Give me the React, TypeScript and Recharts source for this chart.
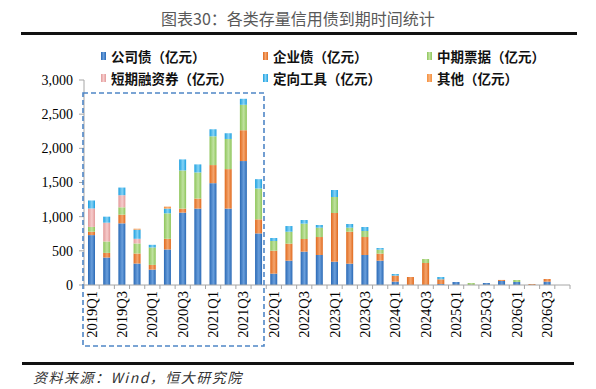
import { BarChart, Bar, XAxis, YAxis } from "recharts";

const quarters = [
    "2019Q1", "2019Q2", "2019Q3", "2019Q4",
    "2020Q1", "2020Q2", "2020Q3", "2020Q4",
    "2021Q1", "2021Q2", "2021Q3", "2021Q4",
    "2022Q1", "2022Q2", "2022Q3", "2022Q4",
    "2023Q1", "2023Q2", "2023Q3", "2023Q4",
    "2024Q1", "2024Q2", "2024Q3", "2024Q4",
    "2025Q1", "2025Q2", "2025Q3", "2025Q4",
    "2026Q1", "2026Q2", "2026Q3", "2026Q4",
];

// 亿元
const companyBonds = [730, 402, 902, 314, 225, 520, 1059, 1118, 1490, 1118, 1814, 755, 166, 356, 488, 439, 341, 312, 439, 356, 49, 0, 0, 15, 44, 0, 29, 59, 44, 0, 49, 0];
const enterpriseBonds = [50, 68, 127, 147, 69, 156, 59, 147, 265, 578, 451, 206, 336, 249, 185, 263, 713, 468, 263, 103, 88, 117, 322, 68, 0, 0, 0, 15, 0, 15, 39, 0];
const mtnBonds = [70, 167, 108, 147, 255, 373, 558, 382, 421, 441, 372, 451, 142, 175, 225, 137, 234, 59, 88, 58, 0, 0, 58, 0, 0, 29, 0, 0, 29, 0, 0, 0];
const shortTermBills = [270, 275, 177, 68, 0, 0, 0, 0, 0, 0, 0, 0, 0, 0, 0, 0, 0, 0, 0, 0, 0, 0, 0, 0, 0, 0, 0, 0, 0, 0, 0, 0];
const directionalTools = [117, 88, 112, 133, 39, 69, 162, 118, 103, 84, 88, 137, 44, 83, 53, 39, 102, 54, 59, 24, 24, 0, 0, 34, 0, 0, 0, 0, 0, 0, 0, 0];
const otherBonds = [0, 0, 0, 15, 0, 29, 0, 0, 0, 0, 0, 0, 0, 0, 0, 0, 0, 0, 0, 0, 0, 0, 0, 0, 0, 0, 0, 0, 0, 0, 0, 0];

const yTicks = [0, 500, 1000, 1500, 2000, 2500, 3000];

const series = [
    { key: "company", name: "公司债（亿元）", edge: "#2a69b5", mid: "#6a9fdc" },
    { key: "enterprise", name: "企业债（亿元）", edge: "#e06a1e", mid: "#f4a56e" },
    { key: "mtn", name: "中期票据（亿元）", edge: "#8ec55a", mid: "#c0e2a0" },
    { key: "short", name: "短期融资券（亿元）", edge: "#e29a9a", mid: "#f6cccc" },
    { key: "directional", name: "定向工具（亿元）", edge: "#1d9fdf", mid: "#86d3f6" },
    { key: "other", name: "其他（亿元）", edge: "#f58f3c", mid: "#f9b27a" },
];

const data = quarters.map((q, i) => ({
    quarter: q,
    company: companyBonds[i],
    enterprise: enterpriseBonds[i],
    mtn: mtnBonds[i],
    short: shortTermBills[i],
    directional: directionalTools[i],
    other: otherBonds[i],
}));

const W = 596;
const H = 389;
const HALF_BAND = 486 / 32 / 2;

const QuarterTick = (props: any) => {
    const { x, y, payload, index } = props;
    return (
        <g>
            <line x1={x - HALF_BAND} x2={x - HALF_BAND} y1={y} y2={y + 4} stroke="#a6a6a6" />
            {index === quarters.length - 1 && (
                <line x1={x + HALF_BAND} x2={x + HALF_BAND} y1={y} y2={y + 4} stroke="#a6a6a6" />
            )}
            {index % 2 === 0 && (
                <text
                    x={x}
                    y={y + 6}
                    transform={`rotate(-90, ${x}, ${y + 6})`}
                    textAnchor="end"
                    dominantBaseline="central"
                    fontSize={14.5}
                    fontFamily="'Liberation Serif', serif"
                    fill="#000"
                >
                    {payload.value}
                </text>
            )}
        </g>
    );
};

const legendCols = [101, 263, 427];
const legendRows = [56, 78];

export default function App() {
    return (
        <div
            style={{
                position: "absolute",
                left: 0,
                top: 0,
                width: W,
                height: H,
                background: "#fff",
                fontFamily: "'Noto Sans CJK SC', sans-serif",
            }}
        >
            <div
                style={{
                    position: "absolute",
                    top: 6,
                    width: W,
                    textAlign: "center",
                    fontSize: 16,
                    color: "#595959",
                }}
            >
                图表30：各类存量信用债到期时间统计
            </div>
            <div style={{ position: "absolute", left: 21, top: 32, width: 556, height: 3, background: "#111" }} />

            {series.map((s, i) => (
                <div
                    key={s.key}
                    style={{
                        position: "absolute",
                        left: legendCols[i % 3],
                        top: legendRows[Math.floor(i / 3)] - 10,
                        height: 20,
                        display: "flex",
                        alignItems: "center",
                        fontSize: 13.5,
                        fontWeight: 700,
                        color: "#111",
                        whiteSpace: "nowrap",
                    }}
                >
                    <span
                        style={{
                            display: "inline-block",
                            width: 5,
                            height: 8,
                            marginRight: 5,
                            background: `linear-gradient(to right, ${s.edge}, ${s.mid}, ${s.edge})`,
                        }}
                    />
                    {s.name}
                </div>
            ))}

            <div style={{ position: "absolute", left: 0, top: 0 }}>
                <BarChart
                    width={W}
                    height={H}
                    data={data}
                    margin={{ top: 80, right: 26, bottom: 49, left: 24 }}
                    barSize={7}
                >
                    <defs>
                        {series.map((s) => (
                            <linearGradient key={s.key} id={`g-${s.key}`} x1="0" y1="0" x2="1" y2="0">
                                <stop offset="0%" stopColor={s.edge} />
                                <stop offset="55%" stopColor={s.mid} />
                                <stop offset="100%" stopColor={s.edge} />
                            </linearGradient>
                        ))}
                    </defs>
                    <XAxis
                        dataKey="quarter"
                        interval={0}
                        height={55}
                        tickLine={false}
                        tickSize={0}
                        tickMargin={0}
                        axisLine={{ stroke: "#a6a6a6" }}
                        tick={<QuarterTick />}
                    />
                    <YAxis
                        width={60}
                        domain={[0, 3000]}
                        ticks={yTicks}
                        tickSize={5}
                        tickMargin={6}
                        axisLine={{ stroke: "#a6a6a6" }}
                        tickLine={{ stroke: "#a6a6a6" }}
                        tick={{ fontSize: 14, fill: "#000", fontFamily: "'Liberation Serif', serif" }}
                        tickFormatter={(v) => Number(v).toLocaleString("en-US")}
                    />
                    {series.map((s) => (
                        <Bar
                            key={s.key}
                            dataKey={s.key}
                            name={s.name}
                            stackId="a"
                            fill={`url(#g-${s.key})`}
                            isAnimationActive={false}
                        />
                    ))}
                </BarChart>
            </div>

            <svg
                width={W}
                height={H}
                style={{ position: "absolute", left: 0, top: 0, pointerEvents: "none" }}
            >
                <rect
                    x={83}
                    y={93}
                    width={181}
                    height={253}
                    fill="none"
                    stroke="#4f86c6"
                    strokeWidth={1.6}
                    strokeDasharray="5 3"
                />
            </svg>

            <div style={{ position: "absolute", left: 22, top: 362, width: 552, height: 3, background: "#111" }} />
            <div
                style={{
                    position: "absolute",
                    left: 33,
                    top: 367,
                    fontSize: 14,
                    fontStyle: "italic",
                    color: "#333",
                    letterSpacing: 1.5,
                    whiteSpace: "nowrap",
                }}
            >
                资料来源：Wind，恒大研究院
            </div>
        </div>
    );
}
